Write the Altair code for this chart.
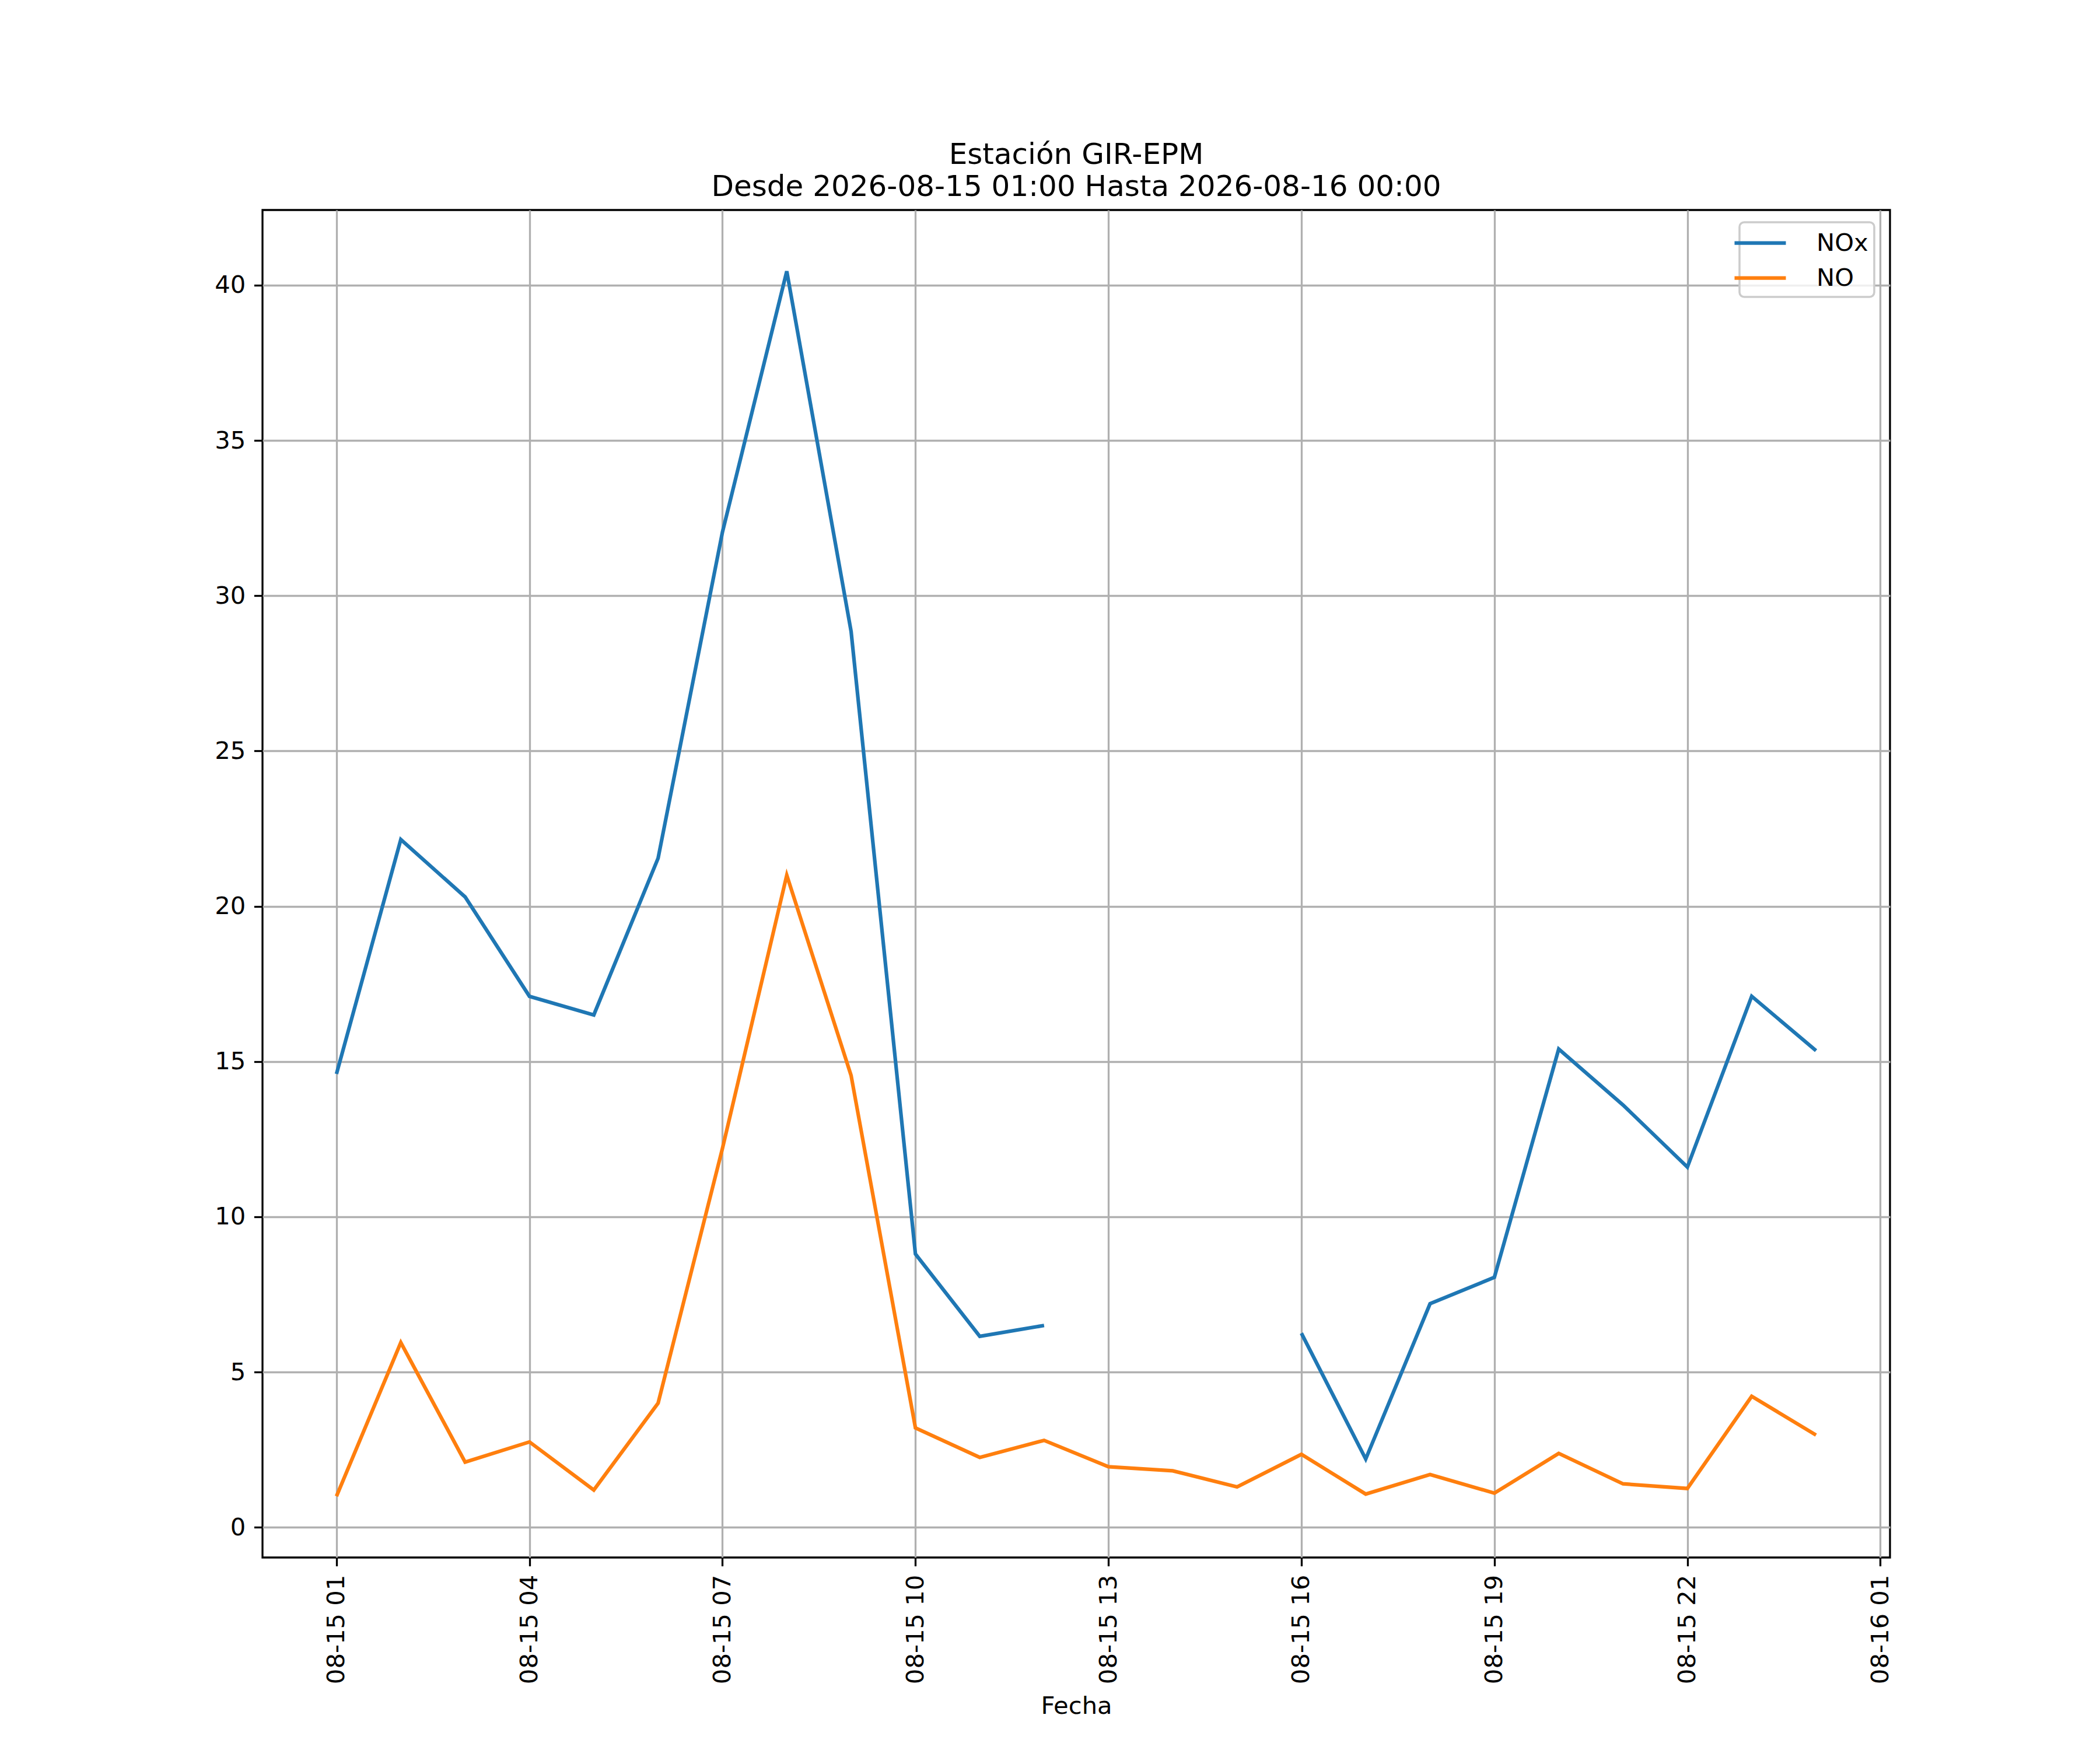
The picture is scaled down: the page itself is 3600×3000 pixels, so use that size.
import altair as alt
import pandas as pd

horas = [
    "2026-08-15T01:00:00Z", "2026-08-15T02:00:00Z", "2026-08-15T03:00:00Z",
    "2026-08-15T04:00:00Z", "2026-08-15T05:00:00Z", "2026-08-15T06:00:00Z",
    "2026-08-15T07:00:00Z", "2026-08-15T08:00:00Z", "2026-08-15T09:00:00Z",
    "2026-08-15T10:00:00Z", "2026-08-15T11:00:00Z", "2026-08-15T12:00:00Z",
    "2026-08-15T13:00:00Z", "2026-08-15T14:00:00Z", "2026-08-15T15:00:00Z",
    "2026-08-15T16:00:00Z", "2026-08-15T17:00:00Z", "2026-08-15T18:00:00Z",
    "2026-08-15T19:00:00Z", "2026-08-15T20:00:00Z", "2026-08-15T21:00:00Z",
    "2026-08-15T22:00:00Z", "2026-08-15T23:00:00Z", "2026-08-16T00:00:00Z",
]
nox = [14.6, 22.15, 20.3, 17.1, 16.5, 21.55, 32.05, 40.45, 28.85, 8.8, 6.15, 6.5,
       None, None, None, 6.25, 2.2, 7.2, 8.05, 15.4, 13.6, 11.6, 17.1, 15.35]
no = [1.0, 5.95, 2.1, 2.75, 1.2, 4.0, 12.2, 21.0, 14.55, 3.2, 2.25, 2.8,
      1.95, 1.82, 1.3, 2.35, 1.07, 1.7, 1.1, 2.38, 1.4, 1.25, 4.22, 2.97]
series = ["NOx", "NO"]
colores = ["#1f77b4", "#ff7f0e"]
y_ticks = [0, 5, 10, 15, 20, 25, 30, 35, 40]
x_tick_hours = [1, 4, 7, 10, 13, 16, 19, 22, 25]

rows = []
for h, a, b in zip(horas, nox, no):
    rows.append({"Fecha": h, "serie": "NOx", "valor": a})
    rows.append({"Fecha": h, "serie": "NO", "valor": b})
df = pd.DataFrame(rows)

def dt(hour, minute=0):
    day = 15 + (hour // 24)
    return alt.DateTime(year=2026, month=8, date=day, hours=hour % 24,
                        minutes=minute, utc=True)

x_values = [dt(h) for h in x_tick_hours]
x_domain = [alt.DateTime(year=2026, month=8, date=14, hours=23, minutes=51, utc=True),
            alt.DateTime(year=2026, month=8, date=16, hours=1, minutes=9, utc=True)]

FONT = "DejaVu Sans"

chart = alt.Chart(df).mark_line(strokeWidth=6.25, invalid="break-paths-filter-domains").encode(
    x=alt.X("Fecha:T",
            scale=alt.Scale(type="utc", domain=x_domain, nice=False),
            axis=alt.Axis(values=x_values,
                          labelExpr="utcFormat(datum.value, '%m-%d %H')",
                          labelAngle=270, labelAlign="right", labelBaseline="middle",
                          labelLimit=600,
                          title="Fecha", titlePadding=34, titleBaseline="top")),
    y=alt.Y("valor:Q",
            scale=alt.Scale(domain=[-0.9725, 42.4225], nice=False, zero=False),
            axis=alt.Axis(values=y_ticks, title=None)),
    color=alt.Color("serie:N",
                    scale=alt.Scale(domain=series, range=colores),
                    legend=alt.Legend(orient="none", legendX=2532, legendY=21,
                                      symbolType="M-2,0L2,0", symbolSize=1936,
                                      symbolStrokeWidth=6.25, symbolOffset=0,
                                      labelFontSize=41.7,
                                      labelFont=FONT, labelColor="black",
                                      labelOffset=71, padding=10, rowPadding=12,
                                      strokeColor="#cccccc",
                                      fillColor="rgba(255,255,255,0.8)",
                                      cornerRadius=8, title=None)),
).properties(
    width=2790, height=2310,
    autosize=alt.AutoSizeParams(type="none"),
    padding={"left": 442, "top": 352, "right": 352, "bottom": 322},
    title=alt.TitleParams(
        text=["Estación GIR-EPM", "Desde 2026-08-15 01:00 Hasta 2026-08-16 00:00"],
        fontSize=50, font=FONT, fontWeight="normal", color="black",
        anchor="middle", offset=25, dy=51, lineHeight=55, baseline="alphabetic"),
).configure_view(
    stroke="black", strokeWidth=3.3
).configure_axis(
    grid=True, gridColor="#b0b0b0", gridWidth=3.3, domain=False,
    tickColor="black", tickWidth=3.3, tickSize=14.6, labelPadding=14.6,
    labelFontSize=41.7, labelFont=FONT, labelColor="black",
    labelFlush=False, labelOverlap=False,
    titleFontSize=41.7, titleFont=FONT, titleFontWeight="normal", titleColor="black",
).configure_legend(
    strokeWidth=3.5
)

chart.save("out.html", embed_options={"renderer": "svg", "actions": False})
